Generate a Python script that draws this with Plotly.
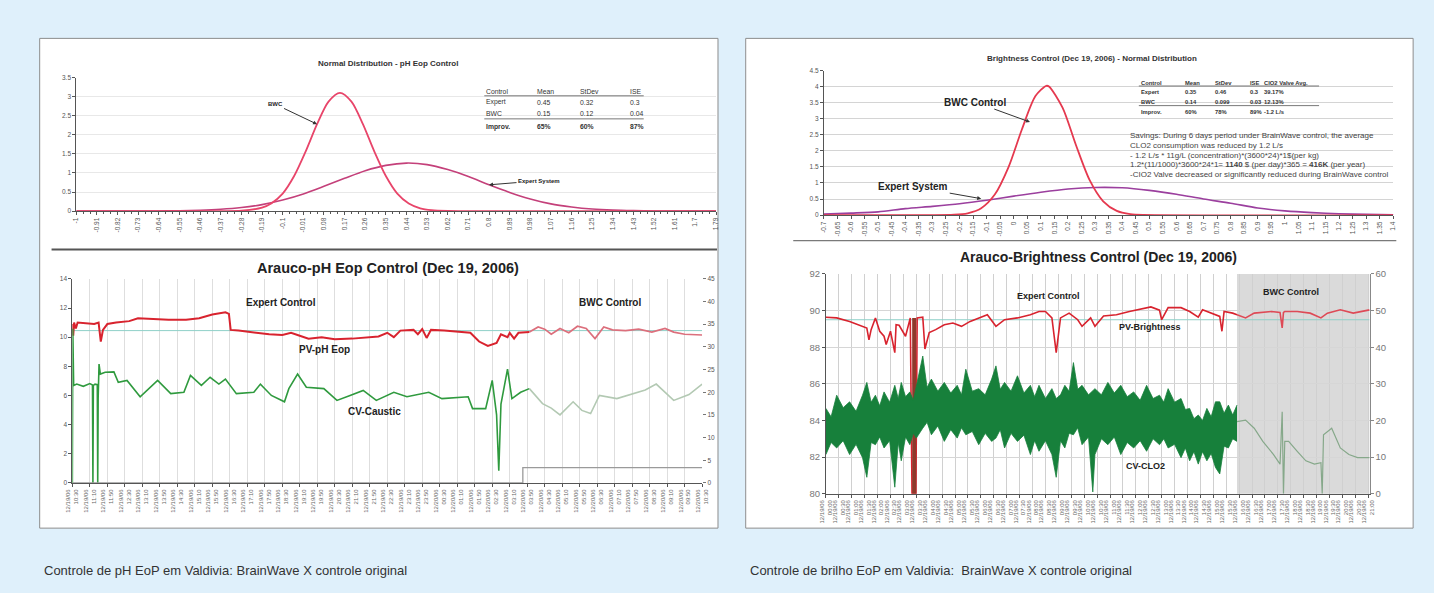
import datetime as dt
import plotly.graph_objects as go

W, H = 1434, 593
FONT = "Liberation Sans, Arial, sans-serif"

# ---------------- pH EoP : normal distribution ----------------
ph_dist_x = [-1.0, -0.91, -0.82, -0.73, -0.64, -0.55, -0.46, -0.37, -0.28, -0.19, -0.1, -0.01,
             0.08, 0.17, 0.26, 0.35, 0.44, 0.53, 0.62, 0.71, 0.8, 0.89, 0.98, 1.07, 1.16, 1.25,
             1.34, 1.43, 1.52, 1.61, 1.7, 1.79]
ph_expert_pdf = [0.0, 0.0002, 0.0005, 0.0014, 0.0038, 0.0095, 0.022, 0.047, 0.093, 0.17, 0.29, 0.45,
                 0.65, 0.86, 1.06, 1.20, 1.26, 1.22, 1.09, 0.91, 0.69, 0.49, 0.32, 0.19, 0.11, 0.055,
                 0.026, 0.012, 0.005, 0.002, 0.0005, 0.0002]
ph_bwc_x = [-1.0, -0.37, -0.28, -0.19, -0.15, -0.1, -0.05, 0.0, 0.05, 0.1, 0.15, 0.2, 0.25, 0.3,
            0.35, 0.4, 0.45, 0.5, 0.55, 0.62, 0.71, 1.79]
ph_bwc_pdf = [0.0, 0.001, 0.011, 0.091, 0.2, 0.46, 0.92, 1.56, 2.28, 2.87, 3.10, 2.87, 2.28, 1.56,
              0.92, 0.46, 0.2, 0.074, 0.024, 0.004, 0.0, 0.0]
ph_table = [["Control", "Mean", "StDev", "ISE"],
            ["Expert", "0.45", "0.32", "0.3"],
            ["BWC", "0.15", "0.12", "0.04"],
            ["Improv.", "65%", "60%", "87%"]]

# ---------------- pH EoP : trend (minutes from start) ----------------
ph_trend_start = dt.datetime(2006, 12, 19, 10, 30)
ph_trend_span = 1440
ph_trend_step = 40
ph_pv_expert_t = [0, 2, 4, 8, 12, 30, 50, 60, 65, 70, 80, 100, 130, 150, 180, 220, 260, 290, 320,
                  350, 358, 362, 380, 420, 450, 480, 500, 520, 540, 570, 600, 640, 670, 700, 720,
                  735, 750, 780, 790, 800, 810, 820, 850, 880, 910, 930, 950, 970, 980, 995, 1000,
                  1010, 1020, 1045]
ph_pv_expert = [10.9, 10.1, 11.0, 10.6, 11.0, 10.95, 10.9, 11.0, 9.7, 10.5, 10.9, 11.0, 11.1, 11.3,
                11.25, 11.2, 11.2, 11.3, 11.55, 11.7, 11.6, 10.5, 10.45, 10.3, 10.2, 10.15, 10.3,
                10.1, 9.9, 10.0, 9.85, 9.9, 10.0, 10.05, 10.3, 10.0, 10.45, 10.5, 10.2, 10.55, 9.95,
                10.5, 10.45, 10.4, 10.3, 9.7, 9.4, 9.6, 10.2, 10.0, 10.3, 9.9, 10.3, 10.35]
ph_pv_bwc_t = [1045, 1065, 1080, 1095, 1115, 1135, 1155, 1175, 1195, 1215, 1235, 1265, 1295, 1325,
               1355, 1375, 1400, 1440]
ph_pv_bwc = [10.35, 10.7, 10.55, 10.2, 10.6, 10.3, 10.75, 10.6, 9.9, 10.7, 10.5, 10.45, 10.55,
             10.35, 10.6, 10.35, 10.2, 10.15]
ph_cv_expert_t = [0, 1, 3, 10, 25, 40, 46, 47, 48, 52, 57, 58, 59, 61, 64, 75, 95, 105, 125, 155,
                  195, 225, 255, 270, 295, 315, 335, 350, 375, 415, 430, 455, 485, 495, 515, 535,
                  575, 605, 635, 665, 695, 735, 765, 815, 845, 905, 915, 945, 960, 970, 975, 980,
                  995, 1005, 1025, 1045]
ph_cv_expert = [0, 34, 21.5, 21.8, 21.3, 21.9, 21.6, 0, 21.5, 21.8, 21.7, 0, 18.6, 26.2, 24.0, 24.4,
                24.5, 22.2, 22.6, 19.0, 22.6, 19.7, 20.0, 23.7, 21.5, 23.3, 21.8, 22.9, 19.7, 20.0,
                21.8, 19.3, 17.9, 20.8, 24.0, 21.1, 20.8, 18.2, 19.3, 20.4, 18.2, 20.0, 19.0, 20.0,
                18.6, 19.0, 16.4, 16.4, 22.6, 15.0, 2.7, 17.4, 25.1, 18.6, 20.0, 20.8]
ph_cv_bwc_t = [1045, 1075, 1095, 1115, 1145, 1165, 1185, 1205, 1245, 1285, 1310, 1335, 1375, 1410,
               1440]
ph_cv_bwc = [20.8, 17.5, 16.5, 15.0, 17.9, 16.0, 15.3, 19.3, 18.6, 19.7, 20.5, 21.8, 18.2, 19.5, 21.8]
ph_mode_t = [0, 1030, 1030, 1440]
ph_mode = [0, 0, 3.4, 3.4]
ph_setpoint = 10.45

# ---------------- Brightness : normal distribution ----------------
br_dist_ticks = [-0.7, -0.65, -0.6, -0.55, -0.5, -0.45, -0.4, -0.35, -0.3, -0.25, -0.2, -0.15, -0.1,
                 -0.05, 0.0, 0.05, 0.1, 0.15, 0.2, 0.25, 0.3, 0.35, 0.4, 0.45, 0.5, 0.55, 0.6, 0.65,
                 0.7, 0.75, 0.8, 0.85, 0.9, 0.95, 1.0, 1.05, 1.1, 1.15, 1.2, 1.25, 1.3, 1.35, 1.4]
br_expert_x = [-0.7, -0.6, -0.5, -0.4, -0.3, -0.2, -0.1, 0.0, 0.1, 0.2, 0.3, 0.4, 0.5, 0.6, 0.7,
               0.8, 0.9, 1.0, 1.1, 1.2, 1.3, 1.4]
br_expert_pdf = [0.03, 0.06, 0.10, 0.20, 0.27, 0.35, 0.46, 0.59, 0.71, 0.81, 0.86, 0.85, 0.77, 0.65,
                 0.50, 0.37, 0.22, 0.13, 0.075, 0.04, 0.02, 0.01]
br_bwc_x = [-0.7, -0.22, -0.17, -0.12, -0.07, -0.02, 0.03, 0.08, 0.12, 0.13, 0.18, 0.23, 0.28,
            0.33, 0.38, 0.43, 0.48, 1.4]
br_bwc_pdf = [0.0, 0.011, 0.055, 0.213, 0.639, 1.48, 2.67, 3.71, 4.03, 4.01, 3.35, 2.17, 1.09,
              0.43, 0.13, 0.03, 0.005, 0.0]
br_table = [["Control", "Mean", "StDev", "ISE", "CIO2 Valve Avg."],
            ["Expert", "0.35", "0.46", "0.3", "39.17%"],
            ["BWC", "0.14", "0.099", "0.03", "12.13%"],
            ["Improv.", "60%", "78%", "89%", "-1.2 L/s"]]
br_notes = ["Savings: During 6 days period under BrainWave control, the average",
            "CLO2 consumption was reduced by 1.2 L/s",
            "- 1.2 L/s * 11g/L (concentration)*(3600*24)*1$(per kg)",
            "1.2*(11/1000)*3600*24*1= <b>1140</b> $ (per day)*365 = <b>416K</b> (per year)",
            "-CIO2 Valve decreased or significantly reduced during BrainWave control"]

# ---------------- Brightness : trend (minutes from start) ----------------
br_trend_start = dt.datetime(2006, 12, 19, 0, 0)
br_trend_span = 1263
br_trend_step = 30
br_bwc_start = 955
br_pv_expert_t = [0, 25, 55, 75, 95, 100, 105, 115, 125, 135, 140, 150, 160, 163, 170, 185, 196, 200,
                  209, 212, 225, 230, 240, 255, 275, 295, 315, 335, 355, 375, 395, 415, 445, 475,
                  495, 510, 525, 535, 545, 565, 585, 595, 615, 625, 645, 675, 705, 735, 755, 775,
                  780, 795, 825, 845, 865, 875, 895, 915, 920, 925, 945, 955]
br_pv_expert = [89.64, 89.6, 89.4, 89.23, 89.05, 88.4, 88.96, 89.6, 88.87, 88.6, 88.15, 88.87, 87.7,
                89.23, 89.2, 88.6, 89.6, 80.0, 80.0, 89.6, 89.64, 87.9, 88.8, 88.96, 89.23, 89.32,
                89.14, 89.41, 89.6, 89.77, 89.14, 89.5, 89.6, 89.77, 89.95, 89.95, 89.6, 87.7, 89.6,
                89.86, 89.5, 89.14, 89.6, 89.14, 89.7, 89.77, 89.95, 90.12, 90.2, 90.02, 89.5,
                90.16, 90.16, 89.95, 89.64, 90.04, 89.86, 89.68, 88.87, 89.95, 89.86, 89.77]
br_pv_bwc_t = [955, 975, 995, 1015, 1035, 1055, 1060, 1063, 1066, 1070, 1095, 1125, 1150, 1165,
               1195, 1225, 1263]
br_pv_bwc = [89.77, 89.6, 89.86, 89.9, 89.95, 89.9, 89.05, 89.9, 89.95, 89.95, 89.95, 89.86, 89.6,
             89.86, 90.04, 89.86, 90.04]
br_setpoint = 89.5
br_outage_t = 205
br_cv_t = [0, 12, 25, 40, 55, 70, 85, 95, 105, 115,
           125, 135, 148, 160, 168, 175, 185, 195, 203, 210,
           225, 235, 245, 260, 275, 290, 305, 315, 325, 340,
           355, 370, 385, 395, 405, 415, 430, 445, 460, 475,
           485, 495, 510, 525, 535, 545, 555, 565, 575, 585,
           595, 610, 620, 625, 640, 655, 670, 685, 700, 715, 730,
           745, 760, 775, 785, 795, 810, 825, 835, 845, 855,
           865, 875, 885, 895, 905, 915, 925, 935, 945, 955]
br_cv_high = [23.3, 21.0, 26.9, 23.5, 25.1, 22.5, 26.9, 30.4, 25.0, 26.9,
              24.0, 27.8, 25.0, 29.6, 26.0, 30.4, 26.5, 27.8, 25.5, 29.6,
              37.6, 29.0, 31.3, 28.0, 30.4, 27.5, 29.6, 27.0, 34.0, 28.0,
              28.7, 27.0, 31.3, 34.9, 28.5, 30.4, 28.0, 32.2, 27.5, 29.6,
              26.5, 29.6, 26.0, 28.7, 26.0, 27.0, 29.6, 28.0, 35.8, 28.5,
              29.6, 27.0, 28.0, 28.7, 27.0, 30.4, 27.5, 29.6, 26.5, 27.8, 25.5,
              29.6, 26.0, 26.9, 25.0, 28.7, 25.0, 26.0, 23.0, 23.3, 20.5,
              21.5, 20.0, 23.3, 21.0, 25.1, 25.1, 22.0, 24.2, 21.5, 24.2]
br_cv_low = [10.7, 14.0, 12.5, 14.5, 10.7, 13.5, 9.85, 4.5, 14.0, 13.4,
             15.5, 12.5, 14.5, 1.8, 14.0, 9.0, 15.5, 13.4, 16.5, 15.2,
             17.9, 19.5, 16.1, 18.5, 14.3, 17.5, 15.2, 18.0, 16.1, 17.0,
             13.4, 16.5, 14.3, 15.2, 17.5, 12.5, 16.5, 14.3, 16.0, 10.7,
             14.5, 11.6, 14.5, 10.7, 4.5, 14.5, 12.5, 16.5, 16.1, 18.0,
             13.4, 15.5, 0.5, 10.7, 15.0, 13.4, 15.5, 10.7, 14.0, 12.5, 14.5,
             11.6, 15.0, 13.4, 15.0, 12.5, 13.5, 9.85, 12.5, 9.0, 11.5,
             8.1, 11.5, 9.0, 11.0, 7.2, 5.4, 13.0, 12.5, 15.0, 14.3]
br_cv_bwc_t = [955, 975, 995, 1015, 1040, 1055, 1060, 1063, 1066, 1075, 1095, 1115, 1135, 1150,
               1153, 1156, 1175, 1195, 1215, 1235, 1263]
br_cv_bwc = [19.7, 20.1, 17.9, 14.3, 10.7, 8.1, 22.4, 0, 14.3, 14.3, 11.6, 9.0, 8.1, 8.5, 0, 16.1,
             17.9, 12.5, 10.7, 9.85, 9.85]


def px(x):
    return x / W


def py(y):
    return 1 - y / H


def time_ticks(start, span, step):
    vals = list(range(0, span + 1, step))
    txt = [(start + dt.timedelta(minutes=v)).strftime("%m/%d/%y<br>%H:%M") for v in vals]
    return vals, txt


fig = go.Figure()

# ---- pH distribution curves
fig.add_trace(go.Scatter(x=ph_dist_x, y=ph_expert_pdf, xaxis="x", yaxis="y", mode="lines",
                         line=dict(color="#c4407a", width=1.6, shape="spline", smoothing=0.8)))
fig.add_trace(go.Scatter(x=ph_bwc_x, y=ph_bwc_pdf, xaxis="x", yaxis="y", mode="lines",
                         line=dict(color="#e8456a", width=1.8, shape="spline", smoothing=0.8)))

# ---- pH trend
fig.add_trace(go.Scatter(x=[0, ph_trend_span], y=[ph_setpoint, ph_setpoint], xaxis="x2", yaxis="y2",
                         mode="lines", line=dict(color="#8fd0c8", width=1)))
fig.add_trace(go.Scatter(x=ph_pv_expert_t, y=ph_pv_expert, xaxis="x2", yaxis="y2", mode="lines",
                         line=dict(color="#d8232e", width=2)))
fig.add_trace(go.Scatter(x=ph_pv_bwc_t, y=ph_pv_bwc, xaxis="x2", yaxis="y2", mode="lines",
                         line=dict(color="#dc6f7c", width=1.7)))
fig.add_trace(go.Scatter(x=ph_cv_expert_t, y=ph_cv_expert, xaxis="x2", yaxis="y3", mode="lines",
                         line=dict(color="#2f9a3e", width=1.6)))
fig.add_trace(go.Scatter(x=ph_cv_bwc_t, y=ph_cv_bwc, xaxis="x2", yaxis="y3", mode="lines",
                         line=dict(color="#b3c9b3", width=1.6)))
fig.add_trace(go.Scatter(x=ph_mode_t, y=ph_mode, xaxis="x2", yaxis="y3", mode="lines",
                         line=dict(color="#9a9a9a", width=1.3)))

# ---- Brightness distribution curves
fig.add_trace(go.Scatter(x=br_expert_x, y=br_expert_pdf, xaxis="x3", yaxis="y4", mode="lines",
                         line=dict(color="#9b3f9e", width=1.6, shape="spline", smoothing=0.8)))
fig.add_trace(go.Scatter(x=br_bwc_x, y=br_bwc_pdf, xaxis="x3", yaxis="y4", mode="lines",
                         line=dict(color="#e5394f", width=1.8, shape="spline", smoothing=0.8)))

# ---- Brightness trend
fig.add_trace(go.Scatter(x=br_cv_t, y=br_cv_low, xaxis="x4", yaxis="y6", mode="lines",
                         line=dict(color="#18803c", width=0.8)))
fig.add_trace(go.Scatter(x=br_cv_t, y=br_cv_high, xaxis="x4", yaxis="y6", mode="lines",
                         fill="tonexty", fillcolor="#17803b", line=dict(color="#18803c", width=0.8)))
fig.add_trace(go.Scatter(x=br_cv_bwc_t, y=br_cv_bwc, xaxis="x4", yaxis="y6", mode="lines",
                         line=dict(color="#86a88a", width=1.2)))
fig.add_trace(go.Scatter(x=[0, br_trend_span], y=[br_setpoint, br_setpoint], xaxis="x4", yaxis="y5",
                         mode="lines", line=dict(color="#8fd0c8", width=1)))
fig.add_trace(go.Scatter(x=br_pv_expert_t, y=br_pv_expert, xaxis="x4", yaxis="y5", mode="lines",
                         line=dict(color="#d8232e", width=1.6)))
fig.add_trace(go.Scatter(x=[br_outage_t, br_outage_t], y=[80, 89.6], xaxis="x4", yaxis="y5",
                         mode="lines", line=dict(color="#8e3a2c", width=4)))
fig.add_trace(go.Scatter(x=br_pv_bwc_t, y=br_pv_bwc, xaxis="x4", yaxis="y5", mode="lines",
                         line=dict(color="#de4a56", width=1.6)))

# ---------------- axes ----------------
small = dict(family=FONT, size=6.5, color="#555")
time_font = dict(family=FONT, size=6, color="#666")
ph_tv, ph_tt = time_ticks(ph_trend_start, ph_trend_span, ph_trend_step)
br_tv, br_tt = time_ticks(br_trend_start, br_trend_span - 3, br_trend_step)

axis_common = dict(showline=True, linecolor="#555", linewidth=1, ticks="outside", ticklen=3,
                   tickcolor="#555", zeroline=False)

fig.update_layout(
    xaxis=dict(domain=[px(70), px(716)], anchor="y", range=[-1, 1.79], tickmode="array",
               tickvals=ph_dist_x, ticktext=[f"{v:g}" for v in ph_dist_x], tickangle=-90,
               tickfont=small, showgrid=False,
               minor=dict(ticks="outside", ticklen=2, tickcolor="#555", tick0=-1, dtick=0.03),
               **axis_common),
    yaxis=dict(domain=[py(209), py(73)], anchor="x", range=[0, 3.5], dtick=0.5, tickfont=small,
               showgrid=True, gridcolor="#e8e8e8", **axis_common),
    xaxis2=dict(domain=[px(66), px(702)], anchor="y2", range=[0, ph_trend_span], tickmode="array",
                tickvals=ph_tv, ticktext=ph_tt, tickangle=-90, tickfont=time_font,
                showgrid=True, gridcolor="#dedede", **axis_common),
    yaxis2=dict(domain=[py(486), py(278)], anchor="x2", range=[0, 14], dtick=2, tickfont=small,
                showgrid=False, **axis_common),
    yaxis3=dict(overlaying="y2", side="right", anchor="x2", range=[0, 45], dtick=5, tickfont=small,
                showgrid=False, showline=False, ticks="outside", ticklen=3, tickcolor="#777",
                zeroline=False),
    xaxis3=dict(domain=[px(825), px(1400)], anchor="y4", range=[-0.7, 1.4], tickmode="array",
                tickvals=br_dist_ticks, ticktext=[f"{v:g}" for v in br_dist_ticks], tickangle=-90,
                tickfont=small, showgrid=False, **axis_common),
    yaxis4=dict(domain=[py(213), py(66)], anchor="x3", range=[0, 4.5], dtick=0.5, tickfont=small,
                showgrid=True, gridcolor="#d4d4d4", **axis_common),
    xaxis4=dict(domain=[px(827), px(1376)], anchor="y5", range=[0, br_trend_span], tickmode="array",
                tickvals=br_tv, ticktext=br_tt, tickangle=-90, tickfont=time_font,
                showgrid=True, gridcolor="#d0d0d0", **axis_common),
    yaxis5=dict(domain=[py(497), py(273)], anchor="x4", range=[80, 92], dtick=2,
                tickfont=dict(family=FONT, size=9.5, color="#777"), showgrid=True,
                gridcolor="#d6d6d6", **axis_common),
    yaxis6=dict(overlaying="y5", side="right", anchor="x4", range=[0, 60], dtick=10,
                tickfont=dict(family=FONT, size=9.5, color="#777"), showgrid=False, showline=True,
                linecolor="#888", ticks="outside", ticklen=3, tickcolor="#888", zeroline=False),
)

# ---------------- panels, separators, shading ----------------
shapes = [
    dict(type="rect", xref="paper", yref="paper", x0=px(33), x1=px(718), y0=py(532), y1=py(33),
         fillcolor="white", line=dict(color="#8d8d8d", width=1), layer="below"),
    dict(type="rect", xref="paper", yref="paper", x0=px(746), x1=px(1420), y0=py(532), y1=py(33),
         fillcolor="white", line=dict(color="#8d8d8d", width=1), layer="below"),
    dict(type="line", xref="paper", yref="paper", x0=px(45), x1=px(717), y0=py(248), y1=py(248),
         line=dict(color="#555", width=2)),
    dict(type="line", xref="paper", yref="paper", x0=px(794), x1=px(1403), y0=py(239), y1=py(239),
         line=dict(color="#7a7a7a", width=1.2)),
    dict(type="rect", xref="x4", yref="y5 domain", x0=br_bwc_start, x1=br_trend_span, y0=0, y1=1,
         fillcolor="#dadada", line=dict(width=0), layer="below"),
]

ann = []


def text(x, y, s, size, bold=False, color="#222", anchor="center"):
    ann.append(dict(xref="paper", yref="paper", x=px(x), y=py(y), text=f"<b>{s}</b>" if bold else s,
                    showarrow=False, xanchor=anchor, yanchor="middle",
                    font=dict(family=FONT, size=size, color=color)))


# titles
text(385, 59, "Normal Distribution - pH Eop Control", 8, bold=True, color="#333")
text(385, 267, "Arauco-pH Eop Control (Dec 19, 2006)", 14.5, bold=True)
text(1096, 54, "Brightness Control (Dec 19, 2006) - Normal Distribution", 8, bold=True, color="#333")
text(1102, 256, "Arauco-Brightness Control (Dec 19, 2006)", 14, bold=True)

# pH table
ph_cols = [482, 533, 577, 627]
ph_rows = [87, 98, 110, 123]
for r, row in enumerate(ph_table):
    for c, cell in enumerate(row):
        text(ph_cols[c], ph_rows[r], cell, 6.8, bold=(r == 3), color="#333", anchor="left")
for yy in (91.5, 115):
    shapes.append(dict(type="line", xref="paper", yref="paper", x0=px(482), x1=px(643), y0=py(yy),
                       y1=py(yy), line=dict(color="#555", width=0.8)))

# brightness table
br_cols = [1143, 1188, 1218, 1253, 1267]
br_rows = [78, 88, 98, 108]
for r, row in enumerate(br_table):
    for c, cell in enumerate(row):
        text(br_cols[c], br_rows[r], cell, 5.8, bold=True, color="#333", anchor="left")
for yy in (81.5, 101.5):
    shapes.append(dict(type="line", xref="paper", yref="paper", x0=px(1143), x1=px(1325), y0=py(yy),
                       y1=py(yy), line=dict(color="#555", width=0.8)))
for i, line in enumerate(br_notes):
    text(1132, 132 + 10 * i, line, 8, color="#444", anchor="left")

# series labels on the trends
text(277, 302, "Expert Control", 10, bold=True)
text(609, 302, "BWC Control", 10, bold=True)
text(321, 350, "PV-pH Eop", 10, bold=True)
text(371, 413, "CV-Caustic", 10, bold=True)
text(1052, 295, "Expert Control", 9, bold=True)
text(1297, 291, "BWC Control", 9, bold=True)
text(1154, 327, "PV-Brightness", 9, bold=True)
text(1150, 469, "CV-CLO2", 9, bold=True)


def pointer(xr, yr, x, y, s, size, ax, ay):
    ann.append(dict(xref=xr, yref=yr, x=x, y=y, ax=ax, ay=ay, text=f"<b>{s}</b>", showarrow=True,
                    arrowhead=2, arrowsize=0.8, arrowwidth=1, arrowcolor="#333",
                    font=dict(family=FONT, size=size, color="#222")))


pointer("x", "y", 0.05, 2.28, "BWC", 6, -42, -20)
pointer("x", "y", 0.80, 0.69, "Expert System", 6, 50, -4)
pointer("x3", "y4", 0.06, 2.9, "BWC Control", 10, -55, -20)
pointer("x3", "y4", -0.12, 0.51, "Expert System", 10, -68, -12)

# captions
text(35, 575, "Controle de pH EoP em Valdivia: BrainWave X controle original", 13, color="#333",
     anchor="left")
text(748, 575, "Controle de brilho EoP em Valdivia:  BrainWave X controle original", 13,
     color="#333", anchor="left")

fig.update_layout(width=W, height=H, margin=dict(l=0, r=0, t=0, b=0), showlegend=False,
                  paper_bgcolor="#dff0fb", plot_bgcolor="white", shapes=shapes, annotations=ann,
                  font=dict(family=FONT))

fig.write_html("out.html")
